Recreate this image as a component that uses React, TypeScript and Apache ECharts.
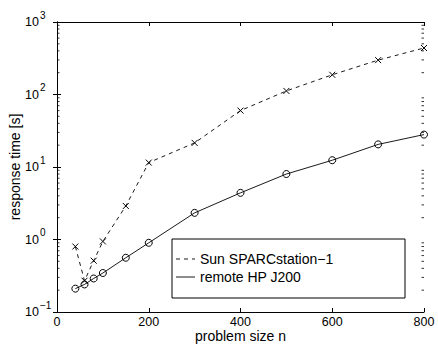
import React, { useEffect, useRef } from "react";
import * as echarts from "echarts";

const problemSizes = [40, 60, 80, 100, 150, 200, 300, 400, 500, 600, 700, 800];
const sunTimes = [0.8, 0.27, 0.51, 0.94, 2.9, 11.5, 21.5, 60, 112, 187, 298, 438];
const hpTimes = [0.21, 0.24, 0.29, 0.345, 0.56, 0.9, 2.33, 4.4, 8.0, 12.4, 20.5, 28];
const xTicks = [0, 200, 400, 600, 800];
const yMin = 0.1;
const yMax = 1000;
const minorMultipliers = [2, 3, 4, 5, 6, 7, 8, 9];
const decades = [0.1, 1, 10, 100];
const seriesNames = ["Sun SPARCstation\u22121", "remote HP J200"];
const axisNames = { x: "problem size n", y: "response time [s]" };

const FONT = "'Liberation Sans', Arial, Helvetica, sans-serif";

export default function App() {
  const ref = useRef<HTMLDivElement>(null);
  useEffect(() => {
    if (!ref.current) return;
    const chart = echarts.init(ref.current, undefined, { renderer: "svg" });
    const minorValues: number[][] = [];
    decades.forEach((d) => minorMultipliers.forEach((m) => minorValues.push([0, m * d])));

    const crossPath = "path://M0,0L10,10M10,0L0,10";

    const yLabelFormatter = (v: number) => {
      const e = Math.round(Math.log10(v));
      const es = e < 0 ? "\u2212" + Math.abs(e) : String(e);
      return "{a|10}{b|" + es + "}";
    };

    chart.setOption({
      animation: false,
      backgroundColor: "#fff",
      grid: { left: 57, right: 14, top: 22, bottom: 32, containLabel: false, outerBoundsMode: "none" },
      xAxis: [
        {
          type: "value",
          min: xTicks[0],
          max: xTicks[xTicks.length - 1],
          interval: 200,
          name: axisNames.x,
          nameLocation: "middle",
          nameGap: 16.5,
          nameMoveOverlap: false,
          nameTextStyle: { fontFamily: FONT, fontSize: 14, lineHeight: 14, color: "#000" },
          axisLine: { show: true, lineStyle: { color: "#000", width: 1 } },
          axisTick: { show: true, inside: true, length: 4, lineStyle: { color: "#000" } },
          axisLabel: { fontFamily: FONT, fontSize: 12.5, lineHeight: 12, color: "#000", margin: 4 },
          splitLine: { show: false },
        },
        {
          type: "value",
          position: "top",
          min: xTicks[0],
          max: xTicks[xTicks.length - 1],
          interval: 200,
          axisLine: { show: true, lineStyle: { color: "#000", width: 1 } },
          axisTick: { show: true, inside: true, length: 4, lineStyle: { color: "#000" } },
          axisLabel: { show: false },
          splitLine: { show: false },
        },
      ],
      yAxis: [
        {
          type: "log",
          logBase: 10,
          min: yMin,
          max: yMax,
          name: axisNames.y,
          nameLocation: "middle",
          nameGap: 35,
          nameMoveOverlap: false,
          nameRotate: 90,
          nameTextStyle: { fontFamily: FONT, fontSize: 14, color: "#000" },
          axisLine: { show: true, lineStyle: { color: "#000", width: 1 } },
          axisTick: { show: true, inside: true, length: 4, lineStyle: { color: "#000" } },
          axisLabel: {
            align: "left",
            margin: 32,
            formatter: yLabelFormatter,
            rich: {
              a: { fontFamily: FONT, fontSize: 12.5, color: "#000" },
              b: { fontFamily: FONT, fontSize: 10, color: "#000", padding: [0, 0, 14, 1] },
            },
          },
          splitLine: { show: false },
        },
        {
          type: "log",
          logBase: 10,
          min: yMin,
          max: yMax,
          position: "right",
          axisLine: { show: true, lineStyle: { color: "#000", width: 1 } },
          axisTick: { show: true, inside: true, length: 4, lineStyle: { color: "#000" } },
          axisLabel: { show: false },
          splitLine: { show: false },
        },
      ],
      series: [
        {
          type: "custom",
          silent: true,
          xAxisIndex: 0,
          yAxisIndex: 0,
          data: minorValues,
          clip: false,
          renderItem: (params: any, api: any) => {
            const y = api.coord([0, api.value(1)])[1];
            const cs = params.coordSys;
            return {
              type: "group",
              children: [
                { type: "line", shape: { x1: cs.x, y1: y, x2: cs.x + 2.5, y2: y }, style: { stroke: "#000", lineWidth: 0.8 } },
                { type: "line", shape: { x1: cs.x + cs.width, y1: y, x2: cs.x + cs.width - 2.5, y2: y }, style: { stroke: "#000", lineWidth: 0.8 } },
              ],
            };
          },
        },
        {
          name: seriesNames[0],
          type: "line",
          clip: false,
          data: problemSizes.map((x, i) => [x, sunTimes[i]]),
          symbol: crossPath,
          symbolSize: 6,
          itemStyle: { color: "none", borderColor: "#000", borderWidth: 1 },
          lineStyle: { color: "#000", width: 0.9, type: [4, 4] },
        },
        {
          name: seriesNames[1],
          type: "line",
          clip: false,
          data: problemSizes.map((x, i) => [x, hpTimes[i]]),
          symbol: "circle",
          symbolSize: 7,
          itemStyle: { color: "none", borderColor: "#000", borderWidth: 1 },
          lineStyle: { color: "#000", width: 0.9 },
        },
      ],
      graphic: [
        {
          type: "group",
          z: 100,
          children: [
            { type: "rect", shape: { x: 172, y: 239, width: 233, height: 59 }, style: { fill: "#fff", stroke: "#000", lineWidth: 1 } },
            { type: "line", shape: { x1: 176, y1: 259, x2: 195, y2: 259 }, style: { stroke: "#000", lineWidth: 0.9, lineDash: [4, 4] } },
            { type: "line", shape: { x1: 176, y1: 277, x2: 195, y2: 277 }, style: { stroke: "#000", lineWidth: 0.9 } },
            { type: "text", x: 200, y: 259, style: { text: seriesNames[0], fontFamily: FONT, fontSize: 14, fill: "#000", verticalAlign: "middle" } },
            { type: "text", x: 200, y: 277, style: { text: seriesNames[1], fontFamily: FONT, fontSize: 14, fill: "#000", verticalAlign: "middle" } },
          ],
        },
      ],
    });
    return () => chart.dispose();
  }, []);
  return <div ref={ref} style={{ width: 438, height: 344, position: "absolute", left: 0, top: 0 }} />;
}
